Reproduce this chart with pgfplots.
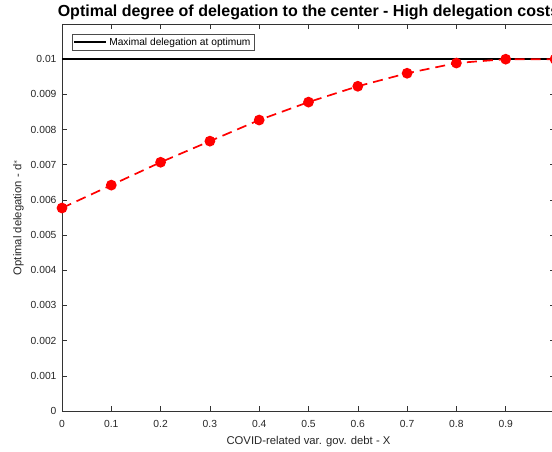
\documentclass[border=0pt]{standalone}
\usepackage{pgfplots}
\pgfplotsset{compat=1.18}
\usepackage{fontspec}
\setmainfont{Liberation Sans}
\setsansfont{Liberation Sans}

\begin{document}
\begin{tikzpicture}
  \begin{axis}[
    name = ax,
    scale only axis,
    width = 493pt,
    height = 387pt,
    xmin = 0, xmax = 1,
    ymin = 0, ymax = 0.011,
    xtick = {0,0.1,0.2,0.3,0.4,0.5,0.6,0.7,0.8,0.9,1},
    xticklabels = {0,0.1,0.2,0.3,0.4,0.5,0.6,0.7,0.8,0.9,},
    ytick = {0,0.001,0.002,0.003,0.004,0.005,0.006,0.007,0.008,0.009,0.01},
    scaled y ticks = false,
    yticklabel style = {/pgf/number format/fixed, /pgf/number format/precision=3, xshift=-2pt},
    xticklabel style = {yshift=-6pt},
    /pgf/number format/assume math mode = true,
    tick align = inside,
    major tick length = 5pt,
    axis line style = {black!80, line width=0.6pt},
    tick style = {black!80, line width=0.6pt},
    ticklabel style = {font=\fontsize{10.3}{12}\selectfont, text=black!85},
    title = {\textbf{Optimal degree of delegation to the center - High delegation costs}},
    title style = {font=\fontsize{16}{18}\selectfont, yshift=-5pt},
    xlabel = {COVID-related var. gov. debt - X},
    xlabel style = {yshift=-2pt},
    ylabel = {Optimal delegation - d$^*$},
    label style = {font=\fontsize{11.3}{13}\selectfont, text=black!85},
    legend style = {at={(0,1)}, anchor=north west, xshift=10pt, yshift=-10pt,
      font=\fontsize{10.2}{12}\selectfont, draw=black!70, inner sep=1.5pt,
      row sep=-1pt},
    legend image code/.code = {\draw[#1] (0pt,0pt) -- (32pt,0pt);},
    legend cell align = left,
  ]
    \addplot[black, line width=1.6pt] coordinates { (0,0.01) (1,0.01) };
    \addlegendentry{Maximal delegation at optimum}
    \addplot[red, line width=1.7pt, dash pattern=on 10pt off 6pt,
      mark=*, mark size=4.5pt, mark options={solid, fill=red}, forget plot]
      coordinates {
        (0,0.00577) (0.1,0.00642) (0.2,0.00707) (0.3,0.00767)
        (0.4,0.00827) (0.5,0.00878) (0.6,0.00923) (0.7,0.00960)
        (0.8,0.00989) (0.9,0.01000) (1.0,0.01000)
      };
  \end{axis}
  \pgfresetboundingbox
  \path[use as bounding box] ([shift={(-62pt,-41pt)}]ax.south west)
    rectangle ([shift={(490pt,411pt)}]ax.south west);
\end{tikzpicture}
\end{document}
